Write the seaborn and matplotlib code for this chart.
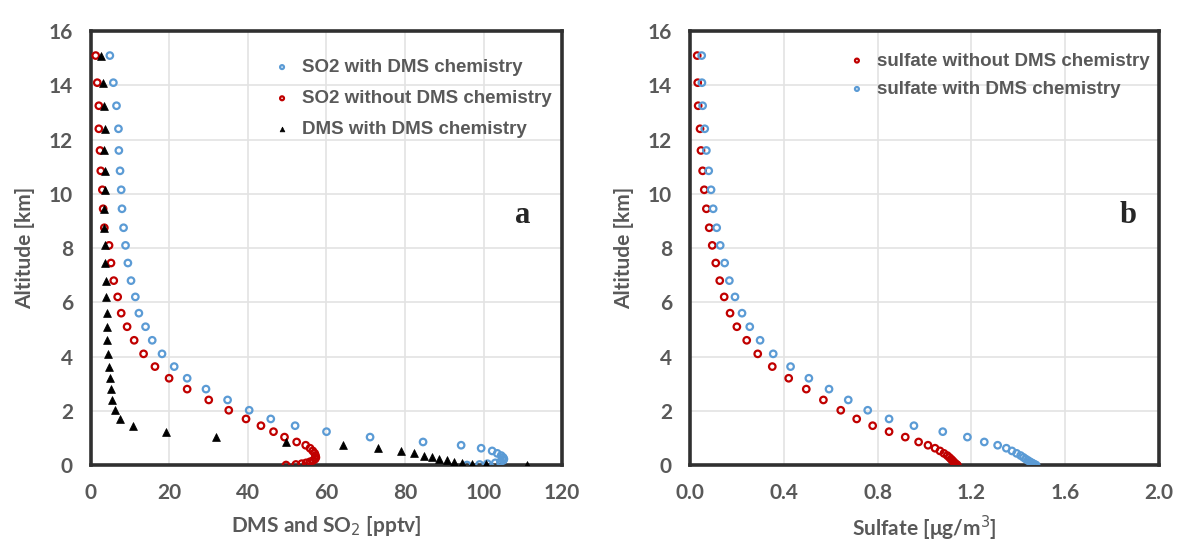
import pandas as pd
import matplotlib
matplotlib.use("Agg")
import matplotlib.pyplot as plt
import seaborn as sns

# altitude levels [km] shared by every profile
altitude = [15.1, 14.1, 13.25, 12.4, 11.6, 10.85, 10.15, 9.45, 8.75, 8.1,
            7.45, 6.8, 6.2, 5.6, 5.1, 4.6, 4.1, 3.63, 3.2, 2.8,
            2.4, 2.02, 1.7, 1.45, 1.23, 1.03, 0.85, 0.73, 0.62, 0.52,
            0.43, 0.35, 0.28, 0.22, 0.17, 0.12, 0.08, 0.05, 0.02, 0.0]

# panel a  [pptv]
so2_with_dms = [4.8, 5.7, 6.5, 7.0, 7.1, 7.4, 7.7, 7.9, 8.3, 8.8,
                9.4, 10.2, 11.3, 12.2, 13.9, 15.6, 18.1, 21.2, 24.5, 29.3,
                34.8, 40.3, 45.8, 52.0, 60.0, 71.1, 84.6, 94.3, 99.4, 102.2,
                103.5, 104.5, 105.0, 105.2, 105.0, 104.3, 103.0, 101.0, 99.0, 95.8]
so2_without_dms = [1.2, 1.6, 2.0, 2.0, 2.3, 2.5, 2.9, 3.1, 3.4, 4.6,
                   5.1, 5.8, 6.8, 7.7, 9.2, 11.0, 13.4, 16.3, 19.9, 24.5,
                   30.0, 35.1, 39.5, 43.3, 46.5, 49.3, 52.4, 54.7, 55.8, 56.5,
                   57.0, 57.2, 57.3, 57.1, 56.6, 55.8, 54.8, 53.7, 52.2, 49.7]
dms_with_dms = [2.5, 3.0, 3.4, 3.5, 3.4, 3.5, 3.5, 3.3, 3.4, 3.6,
                3.6, 3.8, 3.8, 4.0, 4.1, 4.2, 4.3, 4.6, 4.8, 5.0,
                5.4, 6.0, 7.4, 10.8, 19.2, 31.9, 49.7, 64.3, 73.2, 79.0,
                82.4, 84.8, 86.9, 88.7, 90.6, 92.5, 94.5, 97.0, 100.6, 111.0]

# panel b  [ug/m3]
sulfate_without_dms = [0.031, 0.033, 0.035, 0.043, 0.047, 0.054, 0.061, 0.070, 0.082, 0.095,
                       0.110, 0.127, 0.146, 0.171, 0.200, 0.242, 0.289, 0.351, 0.421, 0.496,
                       0.569, 0.643, 0.711, 0.779, 0.849, 0.918, 0.975, 1.015, 1.045, 1.066,
                       1.083, 1.097, 1.106, 1.113, 1.119, 1.124, 1.128, 1.132, 1.136, 1.140]
sulfate_with_dms = [0.050, 0.051, 0.054, 0.063, 0.070, 0.080, 0.090, 0.099, 0.114, 0.129,
                    0.148, 0.168, 0.192, 0.222, 0.255, 0.299, 0.355, 0.429, 0.507, 0.593,
                    0.675, 0.758, 0.849, 0.955, 1.078, 1.183, 1.255, 1.312, 1.349, 1.373,
                    1.393, 1.410, 1.422, 1.432, 1.441, 1.450, 1.458, 1.464, 1.470, 1.476]

BLUE = "#5B9BD5"
RED = "#C00000"
GREY = "#595959"

sns.set_style("white")
plt.rcParams["font.family"] = ["Lato", "DejaVu Sans"]

df_a = pd.DataFrame({"alt": altitude, "so2_with": so2_with_dms,
                     "so2_without": so2_without_dms, "dms": dms_with_dms})
df_b = pd.DataFrame({"alt": altitude, "without": sulfate_without_dms,
                     "with": sulfate_with_dms})

fig = plt.figure(figsize=(11.77, 5.43), dpi=100)
ax1 = fig.add_axes([0.0773, 0.1436, 0.4002, 0.799])
ax2 = fig.add_axes([0.5862, 0.1436, 0.3985, 0.799])

circle = dict(marker="o", s=22, facecolor="none", linewidth=1.6)

sns.scatterplot(data=df_a, x="so2_with", y="alt", ax=ax1, edgecolor=BLUE,
                label="SO2 with DMS chemistry", zorder=3, **circle)
sns.scatterplot(data=df_a, x="so2_without", y="alt", ax=ax1, edgecolor=RED,
                label="SO2 without DMS chemistry", zorder=3, **circle)
sns.scatterplot(data=df_a, x="dms", y="alt", ax=ax1, marker="^", s=32,
                color="black", edgecolor="black", linewidth=0.5,
                label="DMS with DMS chemistry", zorder=4)

sns.scatterplot(data=df_b, x="without", y="alt", ax=ax2, edgecolor=RED,
                label="sulfate without DMS chemistry", zorder=3, **circle)
sns.scatterplot(data=df_b, x="with", y="alt", ax=ax2, edgecolor=BLUE,
                label="sulfate with DMS chemistry", zorder=3, **circle)

ax1.set_xlim(0, 120)
ax1.set_xticks(range(0, 121, 20))
ax2.set_xlim(0, 2.0)
ax2.set_xticks([0.0, 0.4, 0.8, 1.2, 1.6, 2.0])
ax2.set_xticklabels(["0.0", "0.4", "0.8", "1.2", "1.6", "2.0"])

for ax in (ax1, ax2):
    ax.set_ylim(0, 16)
    ax.set_yticks(range(0, 17, 2))
    ax.grid(True, color="#e3e3e3", linewidth=1.2, zorder=0)
    ax.set_axisbelow(True)
    for sp in ax.spines.values():
        sp.set_color("#303030")
        sp.set_linewidth(2.6)
    ax.tick_params(length=0, pad=13, labelsize=15, labelcolor=GREY)
    for t in ax.get_xticklabels() + ax.get_yticklabels():
        t.set_fontweight("bold")
    ax.set_ylabel("Altitude [km]", fontsize=15, fontweight="bold", color=GREY, labelpad=10)

ax1.set_xlabel("DMS and SO$_2$ [pptv]", fontsize=15, fontweight="bold", color=GREY, labelpad=8)
ax2.set_xlabel("Sulfate [\u03bcg/m$^3$]", fontsize=15, fontweight="bold", color=GREY, labelpad=8)

legend_font = {"family": ["Liberation Sans", "DejaVu Sans"], "size": 13.5, "weight": "bold"}
ax1.legend(loc="upper left", bbox_to_anchor=(0.33, 0.975), frameon=False,
           markerscale=0.6, handletextpad=0.05, labelspacing=0.75,
           prop=legend_font, labelcolor=GREY)
ax2.legend(loc="upper left", bbox_to_anchor=(0.28, 0.99), frameon=False,
           markerscale=0.6, handletextpad=0.05, labelspacing=0.6,
           prop=legend_font, labelcolor=GREY)

ax1.text(110, 9.2, "a", fontsize=22, fontweight="bold", family="Liberation Serif",
         ha="center", va="center")
ax2.text(1.87, 9.2, "b", fontsize=22, fontweight="bold", family="Liberation Serif",
         ha="center", va="center")

fig.savefig("out.png", dpi=100)
